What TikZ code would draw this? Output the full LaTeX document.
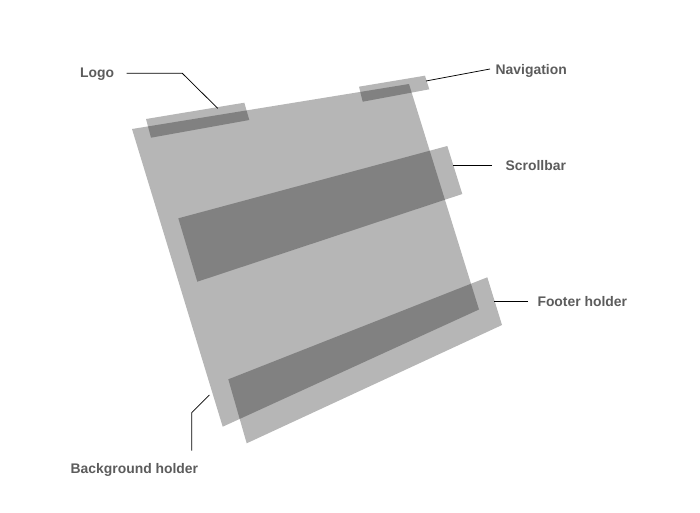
\documentclass[tikz,border=0pt]{standalone}
\usepackage{fontspec}
\setmainfont{Liberation Sans}
\definecolor{labelgray}{HTML}{5C5C5C}
\begin{document}
\begin{tikzpicture}[x=1pt,y=-1pt,
  panel/.style={fill=black,fill opacity=0.286},
  lbl/.style={font=\bfseries\fontsize{13.9}{16}\selectfont, text=labelgray, inner sep=0pt, anchor=base west},
  leader/.style={draw=black, line width=0.75pt}]
\useasboundingbox (0,0) rectangle (700,512);
\fill[white] (0,0) rectangle (700,512);
% panels
\fill[panel] (132,129) -- (409,84) -- (479,309.5) -- (222.7,426.7) -- cycle;
\fill[panel] (146,119) -- (244.3,102.7) -- (249.3,120) -- (151,137.7) -- cycle;
\fill[panel] (359,86.7) -- (425,75.7) -- (429.3,89.3) -- (362.7,101.7) -- cycle;
\fill[panel] (178.3,218.3) -- (447.3,146) -- (462.3,194) -- (197.3,281.7) -- cycle;
\fill[panel] (228.3,379.3) -- (487.3,277.3) -- (502,325) -- (246.7,443.3) -- cycle;
% labels
\node[lbl] (logoL) at (80,77.3) {Logo};
\node[lbl] (navL) at (495.5,74) {Navigation};
\node[lbl] (scrollL) at (505.5,170.7) {Scrollbar};
\node[lbl] (footL) at (537.3,306) {Footer holder};
\node[lbl] (bgL) at (70.5,473.7) {Background holder};
% leader end points
\coordinate (logoA) at (126.7,73.3);
\coordinate (logoB) at (182.3,73.3);
\coordinate (logoP) at (217.7,108.3);
\coordinate (navA) at (490,69);
\coordinate (navP) at (426,81);
\coordinate (scrollA) at (492,165.7);
\coordinate (scrollP) at (452.7,165.7);
\coordinate (footA) at (528,301);
\coordinate (footP) at (494,301);
\coordinate (bgA) at (191.7,450.7);
\coordinate (bgB) at (191.7,412.7);
\coordinate (bgP) at (209.3,395);
% leaders
\draw[leader] (logoA) -- (logoB) -- (logoP);
\draw[leader] (navA) -- (navP);
\draw[leader] (scrollA) -- (scrollP);
\draw[leader] (footA) -- (footP);
\draw[leader] (bgA) -- (bgB) -- (bgP);
\end{tikzpicture}
\end{document}
